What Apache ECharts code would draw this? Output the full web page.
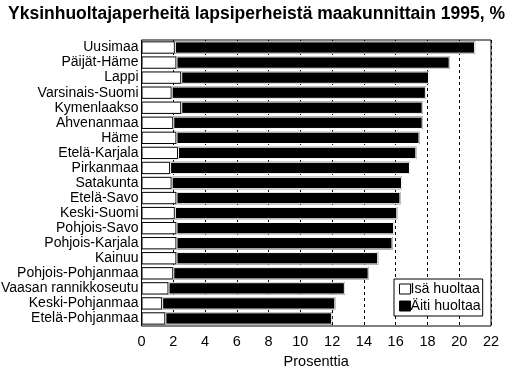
<!DOCTYPE html>
<html><head><meta charset="utf-8">
<script src="https://cdn.jsdelivr.net/npm/echarts@6/dist/echarts.min.js"></script>
<style>html,body{margin:0;padding:0;background:#fff}#c{width:515px;height:369px}</style>
</head><body><div id="c"></div>
<script>
const categories = ["Uusimaa","Päijät-Häme","Lappi","Varsinais-Suomi","Kymenlaakso","Ahvenanmaa","Häme","Etelä-Karjala","Pirkanmaa","Satakunta","Etelä-Savo","Keski-Suomi","Pohjois-Savo","Pohjois-Karjala","Kainuu","Pohjois-Pohjanmaa","Vaasan rannikkoseutu","Keski-Pohjanmaa","Etelä-Pohjanmaa"];
const isaHuoltaa = [2.1,2.2,2.5,1.9,2.5,2.0,2.2,2.3,1.8,1.9,2.2,2.1,2.2,2.2,2.2,2.0,1.7,1.3,1.5];
const aitiHuoltaa = [18.9,17.2,15.6,16.0,15.2,15.7,15.3,15.0,15.1,14.5,14.1,14.0,13.7,13.6,12.7,12.3,11.1,10.9,10.5];
const xTicks = [0,2,4,6,8,10,12,14,16,18,20,22];
const title = "Yksinhuoltajaperheitä lapsiperheistä maakunnittain 1995, %";
const xName = "Prosenttia";
const seriesNames = ["Isä huoltaa","Äiti huoltaa"];

const FONT = "Liberation Sans";
const chart = echarts.init(document.getElementById('c'), null, {renderer:'canvas'});
chart.setOption({
  animation:false,
  backgroundColor:'#fff',
  title:{text:title,left:3,top:0,textStyle:{fontFamily:FONT,fontWeight:'bold',fontSize:17.5,color:'#000'}},
  grid:{left:141.5,right:24,top:40,bottom:43,containLabel:false,outerBoundsMode:'none',show:true,borderColor:'#000',borderWidth:1,backgroundColor:'transparent'},
  legend:{
    data:[{name:seriesNames[0],itemStyle:{color:'#fff',borderColor:'#000',borderWidth:1}},{name:seriesNames[1],itemStyle:{color:'#000',borderColor:'#000',borderWidth:1}}],
    orient:'vertical',left:394,top:279,itemWidth:11,itemHeight:10,itemGap:3,padding:[3,2,3,5],
    borderColor:'#000',borderWidth:1,backgroundColor:'#fff',
    textStyle:{fontFamily:FONT,fontSize:14.2,color:'#000',padding:[0,0,0,-5]},
    icon:'rect',selectedMode:false
  },
  xAxis:{type:'value',min:xTicks[0],max:xTicks[xTicks.length-1],interval:2,
    name:xName,nameLocation:'middle',nameGap:28,nameTextStyle:{fontFamily:FONT,fontSize:14.5,color:'#000'},
    axisLine:{show:false},axisTick:{show:false},
    axisLabel:{fontFamily:FONT,fontSize:14.5,color:'#000',margin:8},
    splitLine:{show:true,lineStyle:{color:'#000',type:[3,3],width:1}}},
  yAxis:{type:'category',data:categories,inverse:true,
    axisLine:{show:false},axisTick:{show:false},
    axisLabel:{fontFamily:FONT,fontSize:14,color:'#000',margin:3,interval:0}},
  series:[
    {name:'_o1',type:'bar',stack:'outline',data:isaHuoltaa,barCategoryGap:'18%',barGap:'-100%',z:1,silent:true,
      itemStyle:{color:'transparent'}},
    {name:'_o2',type:'bar',stack:'outline',data:aitiHuoltaa,barCategoryGap:'18%',barGap:'-100%',z:1,silent:true,
      itemStyle:{color:'transparent',borderColor:'#000',borderWidth:3}},
    {name:seriesNames[0],type:'bar',stack:'main',data:isaHuoltaa,barCategoryGap:'18%',barGap:'-100%',z:3,
      itemStyle:{color:'#fff',borderColor:'#000',borderWidth:1}},
    {name:seriesNames[1],type:'bar',stack:'main',data:aitiHuoltaa,barCategoryGap:'18%',barGap:'-100%',z:3,
      itemStyle:{color:'#000',borderColor:'#fff',borderWidth:1}}
  ]
});
</script></body></html>
